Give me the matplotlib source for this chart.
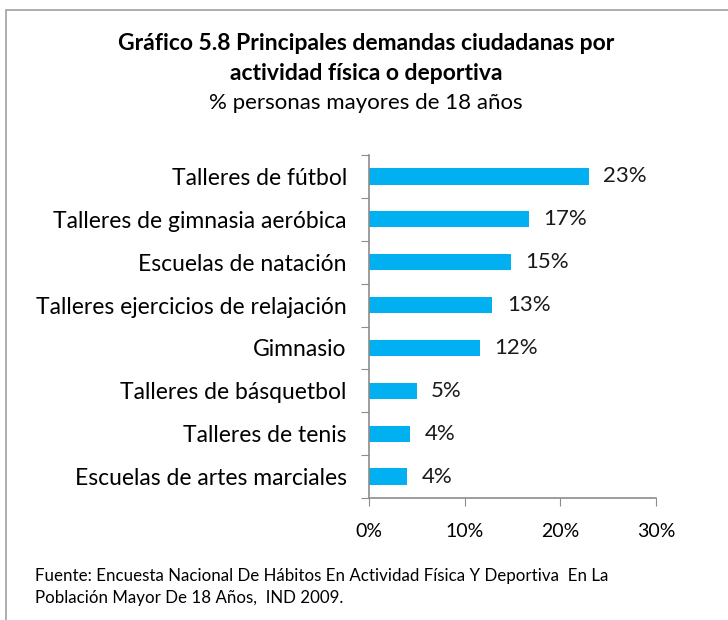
import numpy as np
import matplotlib.pyplot as plt
from matplotlib.patches import Rectangle

plt.rcParams['font.family'] = ['Lato', 'DejaVu Sans']

categorias = ['Talleres de fútbol', 'Talleres de gimnasia aeróbica', 'Escuelas de natación',
              'Talleres ejercicios de relajación', 'Gimnasio', 'Talleres de básquetbol',
              'Talleres de tenis', 'Escuelas de artes marciales']
valores = [23.0, 16.7, 14.8, 12.9, 11.6, 5.0, 4.3, 4.0]
ticks_x = [0, 10, 20, 30]

fig = plt.figure(figsize=(7.28, 6.2), dpi=100)
ax = fig.add_axes([369 / 728, 1 - 498 / 620, (656 - 369) / 728, (498 - 155) / 620])

# marco exterior
fig.patches.append(Rectangle((6 / 728, -0.1), 1.2, 1 - 10 / 620 + 0.1, transform=fig.transFigure,
                             fill=False, edgecolor='#a0a0a0', linewidth=1.2))

y = np.arange(len(categorias))
ax.barh(y, valores, height=0.38, color='#00b0f0')
ax.set_ylim(len(categorias) - 0.5, -0.5)
ax.set_xlim(0, 30)

for yi, v in zip(y, valores):
    ax.text(v + 1.5, yi, f'{v:.0f}%', va='center', ha='left', fontsize=16, color='#1a1a1a')

ax.set_xticks(ticks_x)
ax.set_xticklabels([f'{t}%' for t in ticks_x], fontsize=14)
ax.set_yticks(np.arange(len(categorias) + 1) - 0.5)
ax.set_yticklabels([])
ax.set_yticks(y, minor=True)
ax.set_yticklabels(categorias, minor=True, fontsize=16.5)
ax.tick_params(axis='y', which='minor', length=0, pad=16)
ax.tick_params(axis='y', which='major', length=6, color='#8c8c8c')
ax.tick_params(axis='x', length=6, color='#8c8c8c', pad=12)
for s in ['top', 'right']:
    ax.spines[s].set_visible(False)
for s in ['left', 'bottom']:
    ax.spines[s].set_color('#8c8c8c')
    ax.spines[s].set_linewidth(1.2)

fig.text(366 / 728, 1 - 44 / 620, 'Gráfico 5.8 Principales demandas ciudadanas por',
         ha='center', va='center', fontsize=16.5, fontweight='bold')
fig.text(366 / 728, 1 - 73 / 620, 'actividad física o deportiva',
         ha='center', va='center', fontsize=16.5, fontweight='bold')
fig.text(366 / 728, 1 - 103 / 620, '% personas mayores de 18 años',
         ha='center', va='center', fontsize=16)
fig.text(35 / 728, 1 - 587 / 620,
         'Fuente: Encuesta Nacional De Hábitos En Actividad Física Y Deportiva  En La\n'
         'Población Mayor De 18 Años,  IND 2009.',
         ha='left', va='center', fontsize=12.2, linespacing=1.5)

fig.savefig('out.png', dpi=100)
